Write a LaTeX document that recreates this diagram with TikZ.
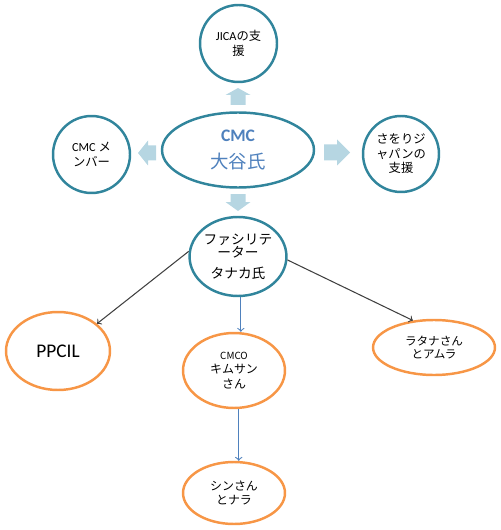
\documentclass[tikz,border=0pt]{standalone}
\usepackage{fontspec}
\setmainfont{Carlito}
\newfontfamily\jp{Noto Sans CJK JP}
\usepackage{tikz}
\usetikzlibrary{shapes.geometric}
\definecolor{ringteal}{HTML}{31859C}
\definecolor{ringorange}{HTML}{F79646}
\definecolor{blockblue}{HTML}{B6D6E2}
\definecolor{lineblue}{HTML}{4F81BD}
\definecolor{linegray}{HTML}{404040}

\begin{document}
\begin{tikzpicture}[x=0.02cm, y=-0.02cm,
		tealring/.style={draw=ringteal, line width=1.4pt, fill=white, inner sep=0pt, align=center},
		orangering/.style={ellipse, draw=ringorange, line width=1.4pt, fill=white, inner sep=0pt, align=center},
		small/.style={font=\fontsize{7}{8.3}\selectfont},
		jpsmall/.style={font=\jp\fontsize{6.8}{8.2}\selectfont},
		blockarrow/.style={fill=blockblue},
		grayline/.style={draw=linegray, line width=0.6pt, ->},
		blueline/.style={draw=lineblue, line width=0.6pt, ->}]
				\useasboundingbox (0,0) rectangle (500,530);
				% upper group
				\node[tealring, circle, minimum size=1.54cm, small] (jica) at (238.5,43.5) {JICA{\jp の支}\\{\jp 援}};
				\node[tealring, ellipse, minimum width=3.04cm, minimum height=1.5cm, text=lineblue, font=\fontsize{10}{15.5}\selectfont\bfseries] (cmc) at (238,150) {CMC\\{\jp\mdseries\fontsize{10.5}{15.5}\selectfont 大谷氏}};
				\node[tealring, circle, minimum size=1.54cm, small] (member) at (91.5,154.5) {CMC {\jp メ}\\{\jp ンバー}};
				\node[tealring, circle, minimum size=1.52cm, font=\jp\fontsize{7}{8.3}\selectfont] (saori) at (401,154) {さをりジ\\ャパンの\\支援};
				\node[tealring, ellipse, minimum width=1.88cm, minimum height=1.58cm, font=\jp\fontsize{7.8}{7.6}\selectfont] (fac) at (238,256.5) {ファシリテ\\ーター\\[4pt]タナカ氏};
				% lower group
				\node[orangering, minimum width=2.08cm, minimum height=1.56cm, font=\fontsize{11}{12}\selectfont] (ppcil) at (58,351) {PPCIL};
				\node[orangering, minimum width=2.04cm, minimum height=1.5cm, jpsmall] (cmco) at (234,370.5) {{\fontsize{5.6}{8.2}\selectfont CMCO}\\キムサン\\さん};
				\node[orangering, minimum width=2.44cm, minimum height=1.1cm, font=\jp\fontsize{6.6}{7.4}\selectfont] (ratana) at (434,347.5) {ラタナさん\\とアムラ};
				\node[orangering, minimum width=2.04cm, minimum height=1.24cm, jpsmall] (shin) at (234,493) {シンさん\\とナラ};
				% block arrows
				\fill[blockarrow] (230.5,105) -- (230.5,95) -- (225.5,95) -- (238,88) -- (250.5,95) -- (245.5,95) -- (245.5,105) -- cycle;
				\fill[blockarrow] (230.5,194) -- (230.5,202) -- (225.5,202) -- (238,211) -- (250.5,202) -- (245.5,202) -- (245.5,194) -- cycle;
				\fill[blockarrow] (156,145.5) -- (148,145.5) -- (148,140.5) -- (138,153) -- (148,165.5) -- (148,160.5) -- (156,160.5) -- cycle;
				\fill[blockarrow] (324,144.5) -- (337,144.5) -- (337,139.5) -- (350,152.5) -- (337,165.5) -- (337,160.5) -- (324,160.5) -- cycle;
				% connectors
				\draw[grayline] (fac.174) -- (ppcil.35);
				\draw[grayline] (fac.-4) -- (ratana.128);
				\draw[blueline] (fac.-86) -- (fac.-86 |- cmco.north);
				\draw[blueline] (cmco.-83) -- (cmco.-83 |- shin.north);
			\end{tikzpicture}
\end{document}
